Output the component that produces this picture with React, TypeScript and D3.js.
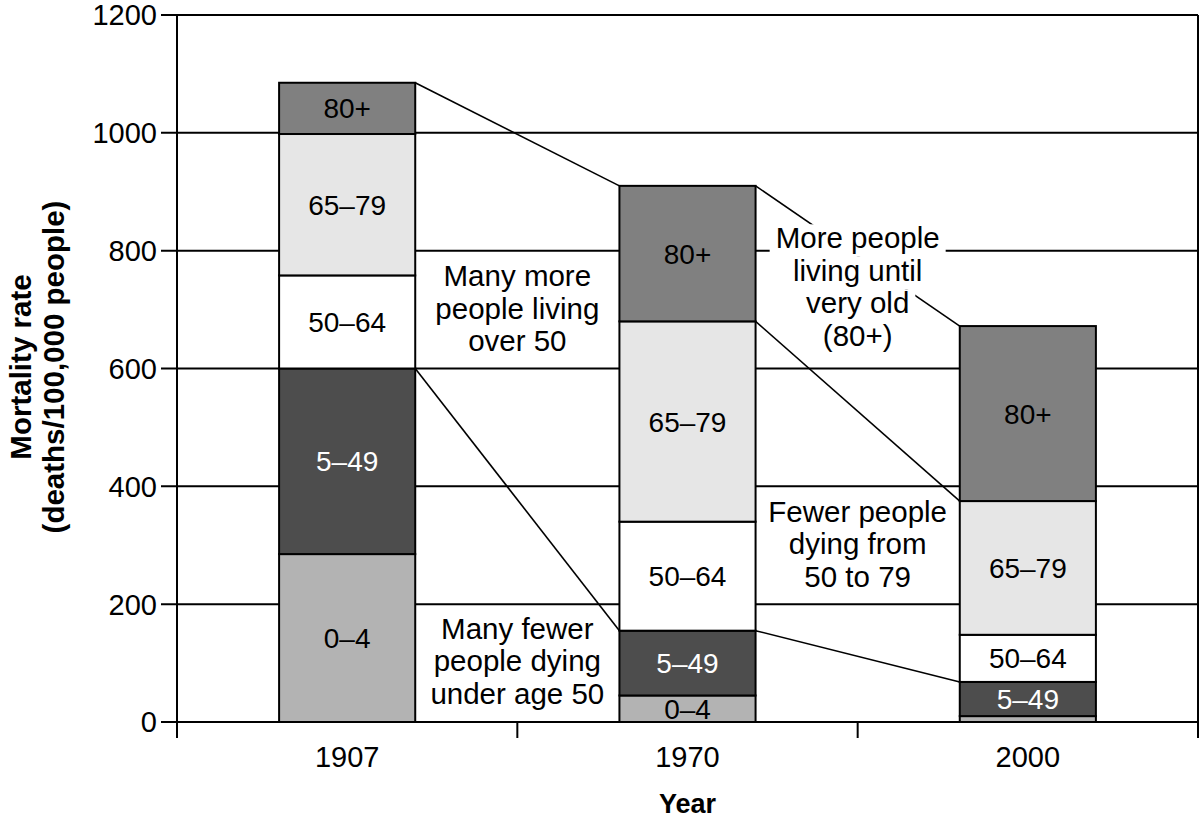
import React, { useEffect, useRef } from "react";
import * as d3 from "d3";

// ---- data ----
const years = ["1907", "1970", "2000"];
const ageGroups = ["0–4", "5–49", "50–64", "65–79", "80+"];
const rate0to4 = [285, 45, 10];
const rate5to49 = [315, 110, 58];
const rate50to64 = [158, 185, 80];
const rate65to79 = [240, 340, 227];
const rate80plus = [87, 230, 297];
const yTicks = [0, 200, 400, 600, 800, 1000, 1200];

const connectorLinks = [
  { from: "1907", to: "1970", group: "80+" },
  { from: "1907", to: "1970", group: "5–49" },
  { from: "1970", to: "2000", group: "80+" },
  { from: "1970", to: "2000", group: "65–79" },
  { from: "1970", to: "2000", group: "5–49" },
];

const annotationTexts = [
  ["Many more", "people living", "over 50"],
  ["More people", "living until", "very old", "(80+)"],
  ["Fewer people", "dying from", "50 to 79"],
  ["Many fewer", "people dying", "under age 50"],
];

// ---- layout / styles ----
const W = 1200;
const H = 821;
const PLOT = { left: 177, right: 1198, top: 15, bottom: 722 };
const FONT = "'Liberation Sans', Arial, sans-serif";
const groupFill: Record<string, string> = {
  "0–4": "#b3b3b3",
  "5–49": "#4d4d4d",
  "50–64": "#ffffff",
  "65–79": "#e6e6e6",
  "80+": "#808080",
};
const groupTextColor: Record<string, string> = {
  "0–4": "#000",
  "5–49": "#fff",
  "50–64": "#000",
  "65–79": "#000",
  "80+": "#000",
};
// annotation anchors: boundary after year index, first baseline value
const annotationAnchors = [
  { after: 0, baseline: 740 },
  { after: 1, baseline: 804 },
  { after: 1, baseline: 340 },
  { after: 0, baseline: 141 },
];
const LINE_H = 32.5;

export default function App() {
  const ref = useRef<SVGSVGElement>(null);

  useEffect(() => {
    const svg = d3.select(ref.current);
    svg.selectAll("*").remove();

    const x = d3
      .scaleBand<string>()
      .domain(years)
      .range([PLOT.left, PLOT.right])
      .padding(0);
    const barW = x.bandwidth() * 0.4;
    const y = d3.scaleLinear().domain([0, 1200]).range([PLOT.bottom, PLOT.top]);

    const series = [rate0to4, rate5to49, rate50to64, rate65to79, rate80plus];
    const table = years.map((yr, i) => {
      const row: any = { year: yr };
      ageGroups.forEach((g, gi) => (row[g] = series[gi][i]));
      return row;
    });
    const stacked = d3.stack<any>().keys(ageGroups)(table);

    const barLeft = (yr: string) => (x(yr) as number) + (x.bandwidth() - barW) / 2;
    const barCenter = (yr: string) => (x(yr) as number) + x.bandwidth() / 2;

    // gridlines
    svg
      .append("g")
      .selectAll("line")
      .data(yTicks)
      .join("line")
      .attr("x1", PLOT.left - 16)
      .attr("x2", PLOT.right)
      .attr("y1", (d) => y(d))
      .attr("y2", (d) => y(d))
      .attr("stroke", "#000")
      .attr("stroke-width", 2);

    // frame
    const frame = svg.append("g").attr("stroke", "#000").attr("stroke-width", 2);
    frame
      .append("line")
      .attr("x1", PLOT.left)
      .attr("x2", PLOT.left)
      .attr("y1", PLOT.top)
      .attr("y2", PLOT.bottom + 16);
    frame
      .append("line")
      .attr("x1", PLOT.right)
      .attr("x2", PLOT.right)
      .attr("y1", PLOT.top)
      .attr("y2", PLOT.bottom + 16);
    const boundaries = years.slice(1).map((yr) => x(yr) as number);
    frame
      .selectAll("line.xt")
      .data(boundaries)
      .join("line")
      .attr("class", "xt")
      .attr("x1", (d) => d)
      .attr("x2", (d) => d)
      .attr("y1", PLOT.bottom)
      .attr("y2", PLOT.bottom + 16);

    // y tick labels
    svg
      .append("g")
      .selectAll("text")
      .data(yTicks)
      .join("text")
      .attr("x", PLOT.left - 20)
      .attr("y", (d) => y(d))
      .attr("dy", "0.36em")
      .attr("text-anchor", "end")
      .attr("font-family", FONT)
      .attr("font-size", 29)
      .text((d) => String(d));

    // x labels
    svg
      .append("g")
      .selectAll("text")
      .data(years)
      .join("text")
      .attr("x", (d) => barCenter(d))
      .attr("y", 767)
      .attr("text-anchor", "middle")
      .attr("font-family", FONT)
      .attr("font-size", 29)
      .text((d) => d);

    // axis titles
    svg
      .append("text")
      .attr("x", (PLOT.left + PLOT.right) / 2)
      .attr("y", 813)
      .attr("text-anchor", "middle")
      .attr("font-family", FONT)
      .attr("font-weight", "bold")
      .attr("font-size", 27)
      .text("Year");
    const yt = svg
      .append("text")
      .attr("transform", "translate(0,367) rotate(-90)")
      .attr("text-anchor", "middle")
      .attr("font-family", FONT)
      .attr("font-weight", "bold")
      .attr("font-size", 29.5);
    yt.append("tspan").attr("x", 0).attr("y", 31).text("Mortality rate");
    yt.append("tspan").attr("x", 0).attr("y", 64).text("(deaths/100,000 people)");

    // connectors
    const topOf = (yr: string, group: string) => {
      const gi = ageGroups.indexOf(group);
      const yi = years.indexOf(yr);
      return stacked[gi][yi][1];
    };
    svg
      .append("g")
      .selectAll("line")
      .data(connectorLinks)
      .join("line")
      .attr("x1", (d) => barLeft(d.from) + barW)
      .attr("y1", (d) => y(topOf(d.from, d.group)))
      .attr("x2", (d) => barLeft(d.to))
      .attr("y2", (d) => y(topOf(d.to, d.group)))
      .attr("stroke", "#000")
      .attr("stroke-width", 1.6);

    // bars
    const layers = svg
      .append("g")
      .selectAll("g")
      .data(stacked)
      .join("g");
    layers
      .selectAll("rect")
      .data((s) => s.map((p) => ({ key: s.key, p })))
      .join("rect")
      .attr("x", (d) => barLeft(d.p.data.year))
      .attr("width", barW)
      .attr("y", (d) => y(d.p[1]))
      .attr("height", (d) => y(d.p[0]) - y(d.p[1]))
      .attr("fill", (d) => groupFill[d.key])
      .attr("stroke", "#000")
      .attr("stroke-width", 2);
    layers
      .selectAll("text")
      .data((s) =>
        s.filter((p) => p[1] - p[0] > 20).map((p) => ({ key: s.key, p }))
      )
      .join("text")
      .attr("x", (d) => barCenter(d.p.data.year))
      .attr("y", (d) => y((d.p[0] + d.p[1]) / 2))
      .attr("dy", "0.36em")
      .attr("text-anchor", "middle")
      .attr("font-family", FONT)
      .attr("font-size", 28)
      .attr("fill", (d) => groupTextColor[d.key])
      .text((d) => d.key);

    // annotations
    annotationTexts.forEach((lines, ai) => {
      const a = annotationAnchors[ai];
      const cx = x(years[a.after + 1]) as number;
      const g = svg.append("g");
      const bg = g.append("g");
      const txt = g
        .append("text")
        .attr("text-anchor", "middle")
        .attr("font-family", FONT)
        .attr("font-size", 29.5);
      lines.forEach((ln, li) => {
        txt
          .append("tspan")
          .attr("x", cx)
          .attr("y", y(a.baseline) + li * LINE_H)
          .text(ln);
      });
      txt.selectAll<SVGTSpanElement, unknown>("tspan").each(function (_, li) {
        const len = this.getComputedTextLength();
        const by = y(a.baseline) + li * LINE_H;
        bg.append("rect")
          .attr("x", cx - len / 2 - 6)
          .attr("width", len + 12)
          .attr("y", by - 24)
          .attr("height", LINE_H)
          .attr("fill", "#fff");
      });
    });
  }, []);

  return (
    <svg
      ref={ref}
      width={W}
      height={H}
      viewBox={`0 0 ${W} ${H}`}
      style={{ position: "absolute", left: 0, top: 0, background: "#fff" }}
    />
  );
}
